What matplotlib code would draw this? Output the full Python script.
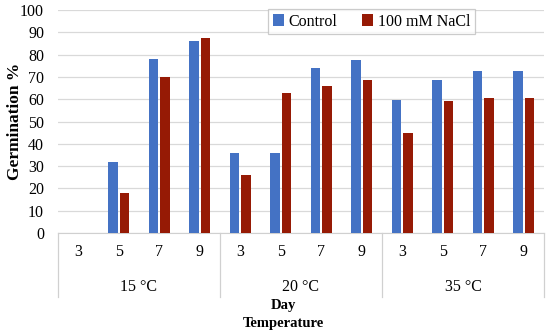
import matplotlib
matplotlib.use("Agg")
import matplotlib.pyplot as plt
import numpy as np
from matplotlib.transforms import blended_transform_factory

plt.rcParams['font.family'] = ['Liberation Serif', 'DejaVu Serif']

temperatures = ["15 °C", "20 °C", "35 °C"]
days = ["3", "5", "7", "9"]
control = [0, 32, 78, 86, 36, 36, 74, 77.6, 59.6, 68.5, 72.6, 72.6]
nacl = [0, 18, 70, 87.3, 26, 62.6, 66, 68.5, 45, 59, 60.4, 60.4]

fig = plt.figure(figsize=(5.5, 3.35), dpi=100)
ax = fig.add_axes([58/550, 1-233/335, (544-58)/550, (233-10)/335])

n = len(control)
x = np.arange(n)
w = 0.235
off = 0.145
ax.bar(x - off, control, width=w, color='#4472C4', label='Control', zorder=3)
ax.bar(x + off, nacl, width=w, color='#961A05', label='100 mM NaCl', zorder=3)

ax.set_xlim(-0.5, n - 0.5)
ax.set_ylim(0, 100)
ax.set_yticks(range(0, 101, 10))
ax.tick_params(axis='y', length=0, labelsize=11.5, pad=10)
ax.yaxis.grid(True, color='#d9d9d9', linewidth=0.9, zorder=0)
ax.set_xticks(x)
ax.set_xticklabels(days * len(temperatures), fontsize=11.5)
ax.tick_params(axis='x', length=0, pad=8)
for s in ['top', 'right', 'left']:
    ax.spines[s].set_visible(False)
ax.spines['bottom'].set_color('#d0d0d0')
ax.set_ylabel('Germination %', fontsize=12.5, fontweight='bold')
ax.yaxis.set_label_coords(-35/486, 0.5)

trans = blended_transform_factory(ax.transData, ax.transAxes)
ylow = -64/223
for k in range(len(temperatures) + 1):
    xb = -0.5 + 4 * k
    ax.plot([xb, xb], [0, ylow], transform=trans, color='#d0d0d0',
            linewidth=0.9, clip_on=False)
for k, t in enumerate(temperatures):
    ax.text(1.5 + 4 * k, -54/223, t, transform=trans, ha='center', va='center',
            fontsize=11.5)

fig.text(283/550, 1-306/335, 'Day', ha='center', va='center', fontsize=10.5,
         fontweight='bold')
fig.text(283/550, 1-324/335, 'Temperature', ha='center', va='center', fontsize=10.5,
         fontweight='bold')

leg = ax.legend(loc='upper left', bbox_to_anchor=((268-58)/(544-58), 1.005), ncol=2,
                fontsize=11.5, frameon=True, fancybox=False, handlelength=0.7,
                handleheight=0.7, handletextpad=0.3, columnspacing=1.5,
                borderpad=0.3, borderaxespad=0)
leg.get_frame().set_edgecolor('#bfbfbf')
leg.get_frame().set_linewidth(0.9)

fig.savefig('out.png', dpi=100)
